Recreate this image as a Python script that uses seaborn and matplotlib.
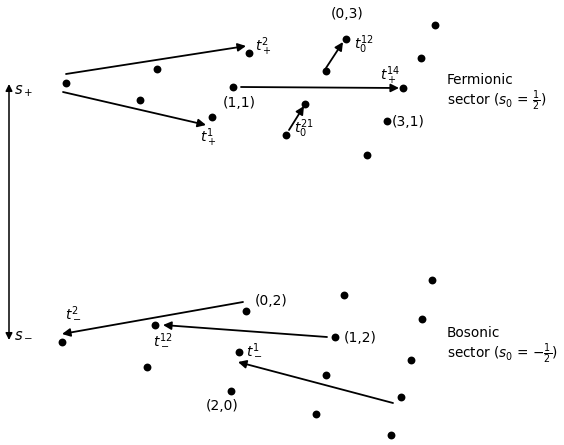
import matplotlib
matplotlib.use("Agg")
import pandas as pd
import seaborn as sns
import matplotlib.pyplot as plt

# weight diagram points (picture coordinates, y downwards)
ferm_x = [66, 157, 140, 249, 233, 212, 286, 305, 326, 346, 403, 387, 367, 421, 435]
ferm_y = [83, 69, 100, 53, 87, 117, 135, 104, 71, 39, 88, 121, 155, 58, 25]
bos_x = [246, 155, 62, 147, 239, 231, 344, 335, 326, 316, 432, 422, 411, 401, 391]
bos_y = [311, 325, 342, 367, 352, 391, 295, 337, 375, 414, 280, 319, 360, 397, 435]

# arrows: (x_from, y_from, x_to, y_to)
arrows = [
    (66, 74, 246, 46),
    (63, 92, 206, 125),
    (241, 87, 399, 88),
    (326, 68, 343, 42),
    (289, 130, 304, 106),
    (243, 302, 62, 334),
    (327, 337, 163, 325),
    (393, 403, 238, 362),
]

labels = [
    (255, 47, r"$t_+^2$"),
    (200, 138, r"$t_+^1$"),
    (223, 103, "(1,1)"),
    (331, 14, "(0,3)"),
    (354, 45, r"$t_0^{12}$"),
    (380, 76, r"$t_+^{14}$"),
    (294, 129, r"$t_0^{21}$"),
    (392, 122, "(3,1)"),
    (65, 313, r"$t_-^2$"),
    (255, 301, "(0,2)"),
    (153, 340, r"$t_-^{12}$"),
    (246, 350, r"$t_-^1$"),
    (344, 338, "(1,2)"),
    (206, 406, "(2,0)"),
]

sns.set_theme(style="white")
plt.rcParams['font.family'] = ['DejaVu Sans']
plt.rcParams['mathtext.fontset'] = 'dejavusans'
plt.rcParams['text.color'] = 'black'

fig = plt.figure(figsize=(5.64, 4.45), dpi=100)
ax = fig.add_axes([0, 0, 1, 1])

df = pd.DataFrame({
    'x': ferm_x + bos_x,
    'y': ferm_y + bos_y,
    'sector': ['F'] * len(ferm_x) + ['B'] * len(bos_x),
})
sns.scatterplot(data=df, x='x', y='y', color='black', s=32, edgecolor='black',
                linewidth=0, legend=False, ax=ax)

for x0, y0, x1, y1 in arrows:
    ax.annotate("", xy=(x1, y1), xytext=(x0, y0),
                arrowprops=dict(arrowstyle="-|>", color='black', lw=1.3,
                                mutation_scale=12, shrinkA=0, shrinkB=0))

# vertical double arrow s+ / s-
ax.annotate("", xy=(9, 84), xytext=(9, 340),
            arrowprops=dict(arrowstyle="<|-|>", color='black', lw=1.1,
                            mutation_scale=10, shrinkA=0, shrinkB=0))
ax.text(14, 91, r"$s_+$", fontsize=10.5, va='center', ha='left')
ax.text(14, 333, r"$s_-$", fontsize=10.5, va='center', ha='left')

for x, y, t in labels:
    ax.text(x, y, t, fontsize=10, va='center', ha='left')

ax.text(447, 93, "Fermionic\nsector ($s_0$ = $\\frac{1}{2}$)", fontsize=9.8,
        va='center', ha='left', linespacing=1.1)
ax.text(447, 346, "Bosonic\nsector ($s_0$ = $-\\frac{1}{2}$)", fontsize=9.8,
        va='center', ha='left', linespacing=1.1)

ax.set_xlim(0, 564)
ax.set_ylim(445, 0)
ax.axis('off')

fig.savefig("out.png", dpi=100, facecolor='white')
